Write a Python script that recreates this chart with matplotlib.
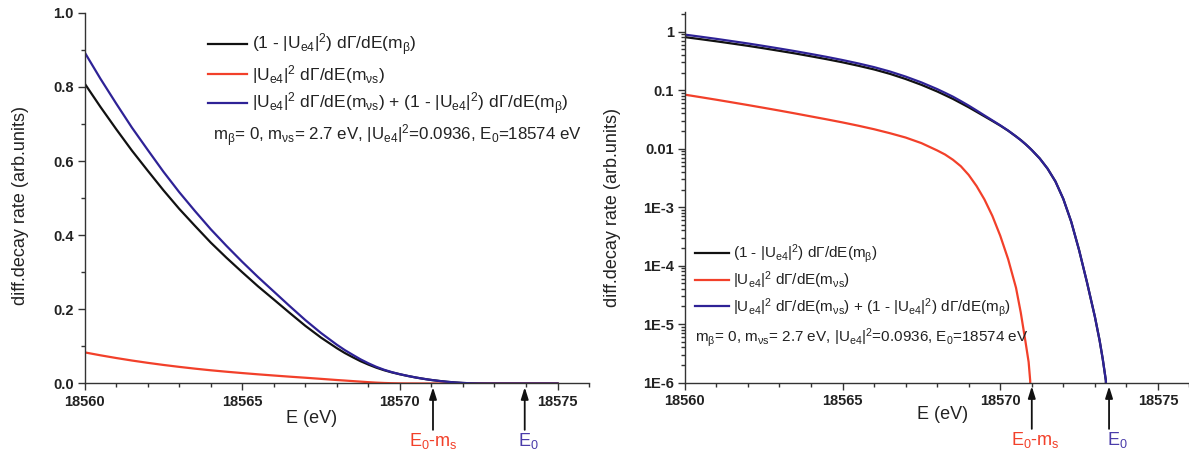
import matplotlib
matplotlib.use('Agg')
import matplotlib.pyplot as plt
from matplotlib.ticker import (FixedLocator, FixedFormatter, MultipleLocator,
                               LogLocator, NullFormatter, FormatStrFormatter)

plt.rcParams['font.family'] = ['Liberation Sans', 'DejaVu Sans']
plt.rcParams['mathtext.fontset'] = 'custom'
plt.rcParams['mathtext.rm'] = 'Liberation Sans'
plt.rcParams['mathtext.it'] = 'Liberation Sans:italic'
plt.rcParams['mathtext.bf'] = 'Liberation Sans:bold'
plt.rcParams['mathtext.default'] = 'regular'

# ---------------- data ----------------
energy = [18560, 18560.5, 18561, 18561.5, 18562, 18562.5, 18563, 18563.5, 18564, 18564.5,
          18565, 18565.5, 18566, 18566.5, 18567, 18567.5, 18568, 18568.25, 18568.5, 18568.75,
          18569, 18569.25, 18569.5, 18569.75, 18570, 18570.25, 18570.5, 18570.65, 18570.8,
          18570.9, 18570.95, 18571, 18571.25, 18571.5, 18571.75, 18572, 18572.25,
          18572.5, 18572.75, 18573, 18573.15, 18573.25, 18573.35, 18573.4, 18574, 18575]

# (1 - |Ue4|^2) dG/dE(m_beta)  -- black
rate_active = [0.809, 0.746, 0.686, 0.628, 0.574, 0.521, 0.471, 0.425, 0.380, 0.339,
               0.300, 0.262, 0.2265, 0.1906, 0.1555, 0.1236, 0.0952, 0.0823, 0.0710, 0.0602,
               0.0510, 0.0427, 0.0357, 0.0298, 0.0248, 0.0203, 0.0162, 0.01403, 0.01197,
               0.01067, 0.01005, 0.00946, 0.00682, 0.00456, 0.00275, 0.00138, 0.000564,
               0.000184, 0.0000518, 0.0000134, 0.00000526, 0.00000252, 0.00000107, 0, 0, 0]

# |Ue4|^2 dG/dE(m_nus)  -- red
rate_sterile = [0.0839, 0.0760, 0.0687, 0.0619, 0.0557, 0.0500, 0.0448, 0.0400, 0.0356, 0.0317,
                0.0281, 0.0247, 0.0215, 0.0184, 0.0155, 0.01245, 0.00933, 0.00794, 0.00646, 0.00501,
                0.00355, 0.00229, 0.00135, 0.000708, 0.000324, 0.000129, 0.0000417, 0.0000158,
                0.0000050, 0.00000224, 0.00000107, 0, 0, 0, 0, 0, 0,
                0, 0, 0, 0, 0, 0, 0, 0, 0]

# sum -- blue
rate_total = [0.893, 0.822, 0.755, 0.690, 0.630, 0.571, 0.516, 0.465, 0.416, 0.371,
              0.328, 0.287, 0.248, 0.209, 0.171, 0.136, 0.1045, 0.0902, 0.0775, 0.0652,
              0.0545, 0.045, 0.037, 0.0305, 0.0251, 0.0204, 0.0162, 0.01403, 0.01197,
              0.01067, 0.01005, 0.00946, 0.00682, 0.00456, 0.00275, 0.00138, 0.000564,
              0.000184, 0.0000518, 0.0000134, 0.00000526, 0.00000252, 0.00000107, 0, 0, 0]

x_ticks = [18560, 18565, 18570, 18575]
lin_yticks = [0.0, 0.2, 0.4, 0.6, 0.8, 1.0]
log_yticks = [1, 0.1, 0.01, 1e-3, 1e-4, 1e-5, 1e-6]
log_ytick_labels = ['1', '0.1', '0.01', '1E-3', '1E-4', '1E-5', '1E-6']

# arrow marker energies (E0 - m_s and E0) for each panel
left_markers = [18571.05, 18573.96]
right_markers = [18571.0, 18573.45]

labels = [r'(1 - |U$_{e4}$|$^2$) d$\Gamma$/dE(m$_\beta$)',
          r'|U$_{e4}$|$^2$ d$\Gamma$/dE(m$_{\nu s}$)',
          r'|U$_{e4}$|$^2$ d$\Gamma$/dE(m$_{\nu s}$) + (1 - |U$_{e4}$|$^2$) d$\Gamma$/dE(m$_\beta$)']
param_text = r'm$_\beta$= 0, m$_{\nu s}$= 2.7 eV, |U$_{e4}$|$^2$=0.0936, E$_0$=18574 eV'

# ---------------- style ----------------
BLACK = '#111111'
RED = '#F2402A'
BLUE = '#2E2296'
E0_BLUE = '#4A3CAA'
SPINE = '#333333'
TXT = '#222222'

fig = plt.figure(figsize=(11.89, 4.58), dpi=100)
ax1 = fig.add_axes([0.0712, 0.1627, 0.4242, 0.8096])
ax2 = fig.add_axes([0.5760, 0.1648, 0.4244, 0.8096])


def style_axes(ax):
    for s in ('top', 'right'):
        ax.spines[s].set_visible(False)
    for s in ('left', 'bottom'):
        ax.spines[s].set_color(SPINE)
        ax.spines[s].set_linewidth(1.0)
    ax.tick_params(which='major', direction='out', length=5, width=1.0,
                   color=SPINE, labelsize=10.5, pad=3)
    ax.tick_params(which='minor', direction='out', length=3, width=1.0, color=SPINE)
    ax.set_xlim(18560, 18576)
    ax.xaxis.set_major_locator(FixedLocator(x_ticks))
    ax.xaxis.set_minor_locator(MultipleLocator(1))


lw = 1.6
for ax in (ax1, ax2):
    ax.plot(energy, rate_active, color=BLACK, lw=lw, label=labels[0])
    ax.plot(energy, rate_sterile, color=RED, lw=lw, label=labels[1])
    ax.plot(energy, rate_total, color=BLUE, lw=lw, label=labels[2])

# left (linear)
ax1.set_ylim(0, 1.0)
ax1.yaxis.set_major_locator(FixedLocator(lin_yticks))
ax1.yaxis.set_major_formatter(FormatStrFormatter('%.1f'))
ax1.yaxis.set_minor_locator(MultipleLocator(0.1))
style_axes(ax1)

# right (log)
ax2.set_yscale('log')
ax2.set_ylim(1e-6, 2.2)
ax2.yaxis.set_major_locator(FixedLocator(log_yticks))
ax2.yaxis.set_major_formatter(FixedFormatter(log_ytick_labels))
ax2.yaxis.set_minor_locator(LogLocator(base=10, subs=(2, 3, 4, 5, 6, 7, 8, 9), numticks=20))
ax2.yaxis.set_minor_formatter(NullFormatter())
style_axes(ax2)

for ax in (ax1, ax2):
    for lab in ax.get_xticklabels() + ax.get_yticklabels():
        lab.set_fontweight('bold')
        lab.set_color(TXT)

# axis labels
ax1.set_ylabel('diff.decay rate (arb.units)', fontsize=13, color=TXT)
ax2.set_ylabel('diff.decay rate (arb.units)', fontsize=13, color=TXT)
ax1.yaxis.set_label_coords(-0.110, 0.481)
ax2.yaxis.set_label_coords(-0.127, 0.473)
ax1.set_xlabel('E (eV)', fontsize=13, color=TXT)
ax2.set_xlabel('E (eV)', fontsize=13, color=TXT)
ax1.xaxis.set_label_coords(0.45, -0.0715)
ax2.xaxis.set_label_coords(0.51, -0.063)

# legends
leg1 = ax1.legend(loc='upper left', bbox_to_anchor=(0.245, 0.949), frameon=False,
                  fontsize=12.5, handlelength=2.25, handletextpad=0.25,
                  labelspacing=0.28, borderaxespad=0, borderpad=0)
ax1.text(0.2544, 0.667, param_text, transform=ax1.transAxes, fontsize=12.2,
         ha='left', va='center', color=TXT)

leg2 = ax2.legend(loc='upper left', bbox_to_anchor=(0.02, 0.378), frameon=False,
                  fontsize=11, handlelength=2.25, handletextpad=0.25,
                  labelspacing=0.3, borderaxespad=0, borderpad=0)
ax2.text(0.02, 0.122, param_text, transform=ax2.transAxes, fontsize=11,
         ha='left', va='center', color=TXT)
for leg in (leg1, leg2):
    for t in leg.get_texts():
        t.set_color(TXT)
    for h in leg.get_lines():
        h.set_linewidth(1.6)

# arrows + labels under the axes
arrow_kw = dict(arrowstyle='-|>,head_length=0.7,head_width=0.22', color='#111111', lw=1.3,
                shrinkA=0, shrinkB=0)
for ax, marks, dx in ((ax1, left_markers, (0.0, 0.12)), (ax2, right_markers, (0.12, 0.25))):
    for e in marks:
        ax.annotate('', xy=(e, -0.01), xytext=(e, -0.125),
                    xycoords=('data', 'axes fraction'), textcoords=('data', 'axes fraction'),
                    arrowprops=arrow_kw, annotation_clip=False)
    ax.annotate(r'E$_0$-m$_s$', xy=(marks[0] + dx[0], -0.155), xycoords=('data', 'axes fraction'),
                ha='center', va='center', fontsize=13, color=RED, annotation_clip=False)
    ax.annotate(r'E$_0$', xy=(marks[1] + dx[1], -0.155), xycoords=('data', 'axes fraction'),
                ha='center', va='center', fontsize=13, color=E0_BLUE, annotation_clip=False)

fig.savefig('out.png', dpi=100)
